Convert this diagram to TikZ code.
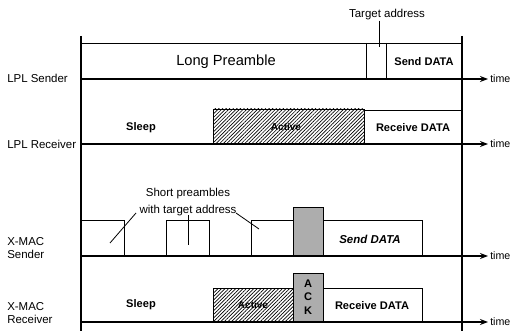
\documentclass[tikz,border=0pt]{standalone}
\usepackage{fontspec}
\setmainfont{Liberation Sans}
\usetikzlibrary{arrows.meta,patterns.meta}
\tikzset{
  box/.style={draw=black,line width=0.7pt},
  axis/.style={line width=1.4pt},
  thinaxis/.style={line width=0.8pt},
  timearrow/.style={line width=1.4pt,-{Stealth[length=6pt,width=4.5pt]}},
  hatch/.style={draw=black,line width=0.7pt,pattern={Lines[angle=45,distance=1.9pt,line width=0.5pt]}},
  ackfill/.style={draw=black,line width=0.7pt,fill=black!32},
  lbl/.style={font=\fontsize{8.6}{10}\selectfont,inner sep=0pt},
  blbl/.style={font=\fontsize{8.3}{10}\selectfont\bfseries,inner sep=0pt},
  small/.style={font=\fontsize{8.6}{9.2}\selectfont,inner sep=0pt,align=left},
  tlbl/.style={font=\fontsize{8}{9}\selectfont,inner sep=0pt,anchor=west},
  ptr/.style={line width=0.6pt},
}
\begin{document}
\begin{tikzpicture}[x=0.75pt,y=-0.75pt]
\useasboundingbox (0,0) rectangle (513,331);
% vertical frame lines
\draw[line width=0.9pt] (81,36) -- (81,331);
\draw[line width=0.9pt] (462,36) -- (462,331);

% ---------- LPL Sender ----------
\draw[box] (81,43) -- (462,43);
\draw[box] (366,43) -- (366,79);
\draw[box] (386,43) -- (386,79);
\draw[thinaxis] (81,79) -- (462,79);
\coordinate (ts1) at (462,79);
\coordinate (te1) at (488,79);
\draw[timearrow] (ts1) -- (te1);
\node[tlbl] (time1) at (490,79) {time};
\node[font=\fontsize{11}{13}\selectfont,inner sep=0pt] (lp) at (226,62) {Long Preamble};
\node[blbl] (sd1) at (424,62) {Send DATA};
\node[lbl] (ta) at (387,15) {Target address};
\coordinate (taend) at (379,47);
\draw[ptr] (ta.south -| taend) -- (taend);
\node[lbl,anchor=west] (l1) at (7,78) {LPL Sender};

% ---------- LPL Receiver ----------
\draw[axis] (81,144) -- (462,144);
\coordinate (ts2) at (462,144);
\coordinate (te2) at (488,144);
\draw[timearrow] (ts2) -- (te2);
\node[tlbl] (time2) at (490,144) {time};
\draw[hatch] (213,109) rectangle (364,144);
\node[blbl,font=\fontsize{7.5}{8}\selectfont\bfseries] (act1) at (286,127) {Active};
\draw[box] (364,144) -- (364,110) -- (462,110);
\node[blbl] (rd1) at (413,128) {Receive DATA};
\node[blbl] (sl1) at (141,128) {Sleep};
\node[lbl,anchor=west] (l2) at (7,144) {LPL Receiver};

% ---------- X-MAC Sender ----------
\draw[box] (81,220) -- (124,220) -- (124,256);
\draw[box] (166,256) -- (166,220) -- (209,220) -- (209,256);
\draw[box] (251,256) -- (251,220) -- (293,220);
\draw[ackfill] (293,207) rectangle (323,256);
\draw[box] (323,220) -- (422,220) -- (422,256);
\draw[thinaxis] (81,256) -- (462,256);
\draw[axis] (124,256) -- (166,256);
\draw[axis] (209,256) -- (251,256);
\draw[axis] (422,256) -- (462,256);
\coordinate (ts3) at (462,256);
\coordinate (te3) at (488,256);
\draw[timearrow] (ts3) -- (te3);
\node[tlbl] (time3) at (490,256) {time};
\node[blbl,font=\fontsize{8.6}{10}\selectfont\bfseries\itshape] (sd2) at (370,239) {Send DATA};
\node[lbl,align=center,font=\fontsize{8.6}{13}\selectfont] (sp) at (188,202) {Short preambles\\with target address};
\coordinate (p1a) at (136,213);
\coordinate (p1b) at (110,243);
\coordinate (p2a) at (188,215);
\coordinate (p2b) at (188,245);
\coordinate (p3a) at (236,213);
\coordinate (p3b) at (259,229);
\draw[ptr] (p1a) -- (p1b);
\draw[ptr] (p2a) -- (p2b);
\draw[ptr] (p3a) -- (p3b);
\node[small,anchor=west] (l3) at (7,248) {X-MAC\\Sender};

% ---------- X-MAC Receiver ----------
\draw[hatch] (213,288) rectangle (293,322);
\node[blbl,font=\fontsize{7.5}{8}\selectfont\bfseries] (act2) at (253,305) {Active};
\draw[ackfill] (293,273) rectangle (323,322);
\node[blbl] (a) at (308,284) {A};
\node[blbl] (c) at (308,297) {C};
\node[blbl] (k) at (308,311) {K};
\draw[box] (323,288) -- (422,288) -- (422,322);
\node[blbl] (rd2) at (372,306) {Receive DATA};
\node[blbl] (sl2) at (141,305) {Sleep};
\draw[thinaxis] (81,322) -- (462,322);
\draw[axis] (81,322) -- (213,322);
\draw[axis] (422,322) -- (462,322);
\coordinate (ts4) at (462,322);
\coordinate (te4) at (488,322);
\draw[timearrow] (ts4) -- (te4);
\node[tlbl] (time4) at (490,322) {time};
\node[small,anchor=west] (l4) at (7,313) {X-MAC\\Receiver};
\end{tikzpicture}
\end{document}
